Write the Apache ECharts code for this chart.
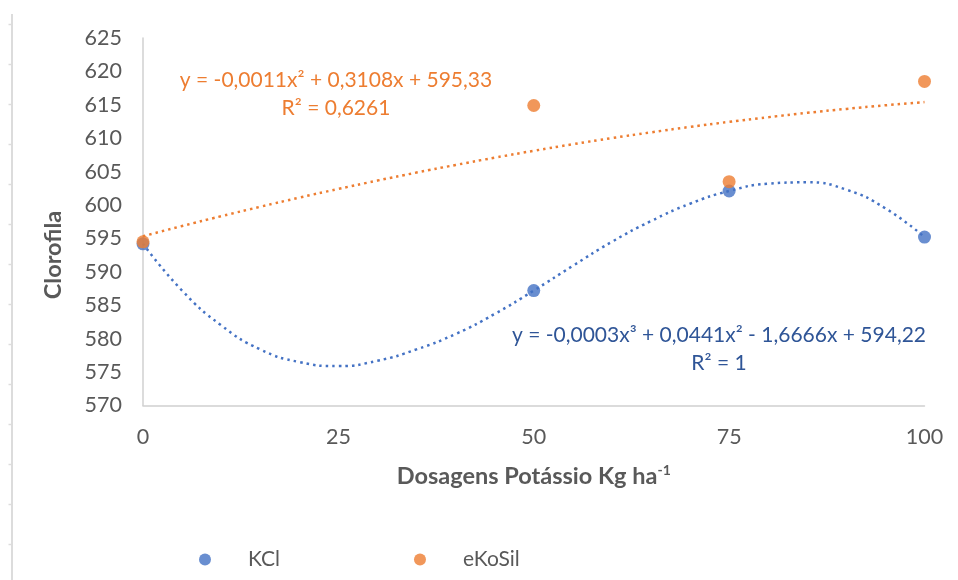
<!DOCTYPE html>
<html>
<head>
<meta charset="utf-8">
<script src="https://cdn.jsdelivr.net/npm/echarts@6/dist/echarts.min.js"></script>
<style>
  html, body { margin: 0; padding: 0; background: #ffffff; }
  #chart { width: 958px; height: 580px; }
</style>
</head>
<body>
<div id="chart"></div>
<script>
// Potassium doses (kg/ha) and measured chlorophyll
const doses = [0, 50, 75, 100];
const kclValues = [594.2, 587.2, 602.1, 595.2];
const ekosilValues = [594.5, 614.9, 603.5, 618.5];

// Fitted trend curves, sampled every 5 kg/ha
const trendDoses = [0, 5, 10, 15, 20, 25, 30, 35, 40, 45, 50, 55, 60, 65, 70, 75, 80, 85, 90, 95, 100];
const kclTrend = [594.2, 587.2, 582.0, 578.4, 576.5, 575.9, 576.7, 578.4, 580.7, 583.7, 587.2, 590.9, 594.5, 597.6, 600.2, 602.1, 603.2, 603.4, 602.3, 599.5, 595.2];
const ekosilTrend = [595.33, 596.86, 598.33, 599.74, 601.11, 602.41, 603.66, 604.86, 606.0, 607.09, 608.12, 609.1, 610.02, 610.88, 611.7, 612.45, 613.15, 613.8, 614.39, 614.93, 615.41];

// Axis ticks
const xTicks = [0, 25, 50, 75, 100];
const yMin = 570, yMax = 625, yStep = 5;

const kclEquation = ['y = -0,0003x³ + 0,0441x² - 1,6666x + 594,22', 'R² = 1'];
const ekosilEquation = ['y = -0,0011x² + 0,3108x + 595,33', 'R² = 0,6261'];

const BLUE = '#4472C4';
const ORANGE = '#ED7D31';
const GREY = '#595959';
const FONT = 'Lato';

const pair = (xs, ys) => xs.map((x, i) => [x, ys[i]]);

const chart = echarts.init(document.getElementById('chart'), null, { renderer: 'canvas' });

// small ruler marks on the left frame line
const frameMarks = [];
for (let y = 24.5; y < 580; y += 40) {
  frameMarks.push({
    type: 'line',
    shape: { x1: 8.5, y1: y, x2: 11, y2: y },
    style: { stroke: '#DDDDDD', lineWidth: 1.5 },
    silent: true
  });
}

const trendLine = (color) => ({
  color: color,
  width: 2.5,
  type: [2.5, 4],
  cap: 'butt'
});

chart.setOption({
  animation: false,
  backgroundColor: '#ffffff',
  grid: { left: 143, right: 33.5, top: 38, bottom: 174.5, containLabel: false },
  xAxis: {
    type: 'value',
    min: xTicks[0],
    max: xTicks[xTicks.length - 1],
    interval: 25,
    axisLine: { lineStyle: { color: '#D0D0D0', width: 1.5 } },
    axisTick: { show: false },
    splitLine: { show: false },
    axisLabel: { color: GREY, fontSize: 21.5, fontFamily: FONT, margin: 21 },
    name: 'Dosagens Potássio Kg ha{sup|-1}',
    nameLocation: 'middle',
    nameGap: 58,
    nameTextStyle: {
      color: GREY, fontSize: 23.5, fontWeight: 'bold', fontFamily: FONT,
      rich: {
        sup: { fontSize: 14, fontWeight: 'bold', color: GREY, fontFamily: FONT, verticalAlign: 'top', padding: [0, 0, 12, 0] }
      }
    }
  },
  yAxis: {
    type: 'value',
    min: yMin,
    max: yMax,
    interval: yStep,
    axisLine: { show: true, lineStyle: { color: '#D0D0D0', width: 1.5 } },
    axisTick: { show: false },
    splitLine: { show: false },
    axisLabel: { color: GREY, fontSize: 21.5, fontFamily: FONT, margin: 21 }
  },
  legend: {
    data: ['KCl', 'eKoSil'],
    left: 194,
    top: 544,
    itemWidth: 12,
    itemHeight: 12,
    itemGap: 134,
    textStyle: { color: GREY, fontSize: 21, fontFamily: FONT, padding: [0, 0, 0, 32] }
  },
  series: [
    {
      name: 'KCl trend',
      type: 'line',
      data: pair(trendDoses, kclTrend),
      smooth: true,
      showSymbol: false,
      silent: true,
      lineStyle: trendLine(BLUE),
      z: 2
    },
    {
      name: 'eKoSil trend',
      type: 'line',
      data: pair(trendDoses, ekosilTrend),
      smooth: true,
      showSymbol: false,
      silent: true,
      lineStyle: trendLine(ORANGE),
      z: 2
    },
    {
      name: 'KCl',
      type: 'scatter',
      data: pair(doses, kclValues),
      symbol: 'circle',
      symbolSize: 13,
      itemStyle: { color: BLUE },
      z: 3
    },
    {
      name: 'eKoSil',
      type: 'scatter',
      data: pair(doses, ekosilValues),
      symbol: 'circle',
      symbolSize: 13,
      itemStyle: { color: ORANGE },
      z: 4
    }
  ],
  graphic: [
    {
      type: 'line',
      shape: { x1: 12, y1: 14, x2: 12, y2: 580 },
      style: { stroke: '#DCDCDC', lineWidth: 2 },
      silent: true
    },
    ...frameMarks,
    {
      type: 'text',
      x: 53, y: 255,
      rotation: Math.PI / 2,
      style: {
        text: 'Clorofila', fill: GREY, fontSize: 23.5, fontWeight: 'bold', fontFamily: FONT,
        align: 'center', verticalAlign: 'middle'
      }
    },
    {
      type: 'text',
      x: 336, y: 94,
      style: {
        text: ekosilEquation.join('\n'), fill: ORANGE, fontSize: 21, fontFamily: FONT,
        lineHeight: 28, align: 'center', verticalAlign: 'middle'
      }
    },
    {
      type: 'text',
      x: 719, y: 349,
      style: {
        text: kclEquation.join('\n'), fill: '#2F5597', fontSize: 21, fontFamily: FONT,
        lineHeight: 28, align: 'center', verticalAlign: 'middle'
      }
    }
  ]
});
</script>
</body>
</html>
